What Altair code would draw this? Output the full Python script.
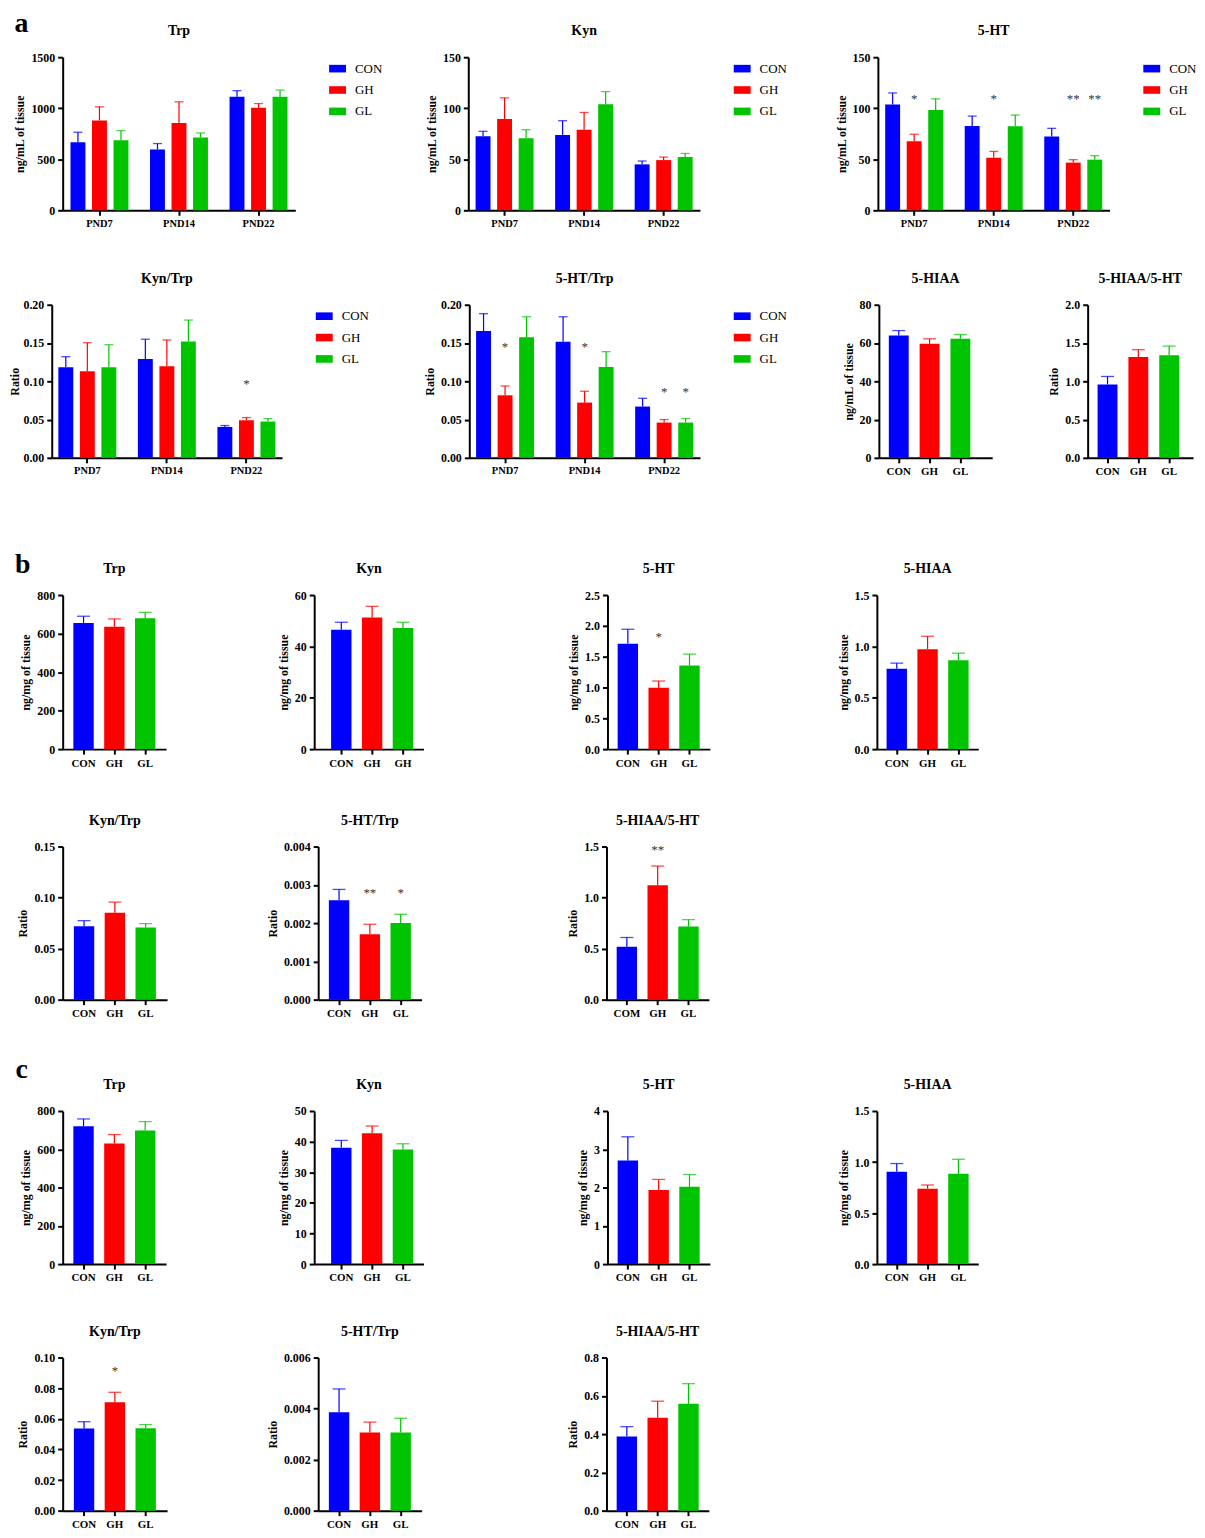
import altair as alt
import pandas as pd

FONT = "Liberation Serif"
GROUPS = ["CON", "GH", "GL"]
PND = ["PND7", "PND14", "PND22"]
COLORS = ["#0000ff", "#ff0000", "#00c400"]

# ---------------- section a (per day, order CON, GH, GL) ----------------
a_trp_mean = [667, 881, 687, 596, 855, 713, 1112, 1004, 1112]
a_trp_top = [765, 1014, 781, 654, 1063, 758, 1172, 1046, 1178]
a_kyn_mean = [72.6, 89.4, 70.6, 73.9, 79.0, 104.0, 45.0, 49.2, 52.2]
a_kyn_top = [77.4, 110.2, 79.0, 87.8, 95.9, 116.3, 48.3, 52.2, 55.7]
a_5ht_mean = [103.7, 67.7, 98.2, 82.6, 51.5, 82.3, 72.2, 46.7, 49.6]
a_5ht_top = [115.0, 74.5, 109.2, 92.3, 57.7, 93.3, 80.3, 49.6, 53.5]
a_5ht_star = ["", "*", "", "", "*", "", "", "**", "**"]
a_5ht_star_y = [0, 111, 0, 0, 111, 0, 0, 111, 111]
a_kyntrp_mean = [0.1183, 0.113, 0.1183, 0.129, 0.1196, 0.152, 0.0404, 0.0491, 0.0474]
a_kyntrp_top = [0.1322, 0.1504, 0.1478, 0.155, 0.154, 0.18, 0.0422, 0.0526, 0.0513]
a_kyntrp_star = ["", "", "", "", "", "", "", "*", ""]
a_kyntrp_star_y = [0, 0, 0, 0, 0, 0, 0, 0.0987, 0]
a_5httrp_mean = [0.1657, 0.0817, 0.1574, 0.1517, 0.0722, 0.1187, 0.067, 0.0461, 0.0461]
a_5httrp_top = [0.1883, 0.0939, 0.1843, 0.1843, 0.087, 0.1387, 0.0778, 0.05, 0.0513]
a_5httrp_star = ["", "*", "", "", "*", "", "", "*", "*"]
a_5httrp_star_y = [0, 0.148, 0, 0, 0.148, 0, 0, 0.089, 0.089]
a_5hiaa_mean = [63.9, 59.6, 62.2]
a_5hiaa_top = [66.5, 62.2, 64.4]
a_ratio_mean = [0.959, 1.318, 1.339]
a_ratio_top = [1.063, 1.413, 1.46]

# ---------------- section b ----------------
b_trp_mean = [655, 636, 680]
b_trp_top = [690, 676, 710]
b_kyn_mean = [46.5, 51.3, 47.2]
b_kyn_top = [49.4, 55.6, 49.4]
b_kyn_labels = ["CON", "GH", "GH"]
b_5ht_mean = [1.708, 0.997, 1.358]
b_5ht_top = [1.945, 1.105, 1.541]
b_5ht_star = ["", "*", ""]
b_5ht_star_y = [0, 1.853, 0]
b_5hiaa_mean = [0.782, 0.973, 0.866]
b_5hiaa_top = [0.837, 1.099, 0.934]
b_kyntrp_mean = [0.0719, 0.0852, 0.0706]
b_kyntrp_top = [0.0774, 0.0956, 0.0745]
b_5httrp_mean = [0.0026, 0.00171, 0.002]
b_5httrp_top = [0.00288, 0.00197, 0.00223]
b_5httrp_star = ["", "**", "*"]
b_5httrp_star_y = [0, 0.00283, 0.00283]
b_ratio_mean = [0.518, 1.121, 0.716]
b_ratio_top = [0.609, 1.309, 0.784]
b_ratio_star = ["", "**", ""]
b_ratio_star_y = [0, 1.49, 0]
b_ratio_labels = ["COM", "GH", "GL"]

# ---------------- section c ----------------
c_trp_mean = [720.5, 630.6, 698]
c_trp_top = [758.5, 677, 744.7]
c_kyn_mean = [38.0, 42.7, 37.4]
c_kyn_top = [40.4, 45.1, 39.3]
c_5ht_mean = [2.704, 1.935, 2.022]
c_5ht_top = [3.326, 2.212, 2.341]
c_5hiaa_mean = [0.904, 0.739, 0.884]
c_5hiaa_top = [0.985, 0.775, 1.027]
c_kyntrp_mean = [0.0536, 0.0708, 0.0538]
c_kyntrp_top = [0.0581, 0.0773, 0.0562]
c_kyntrp_star = ["", "*", ""]
c_kyntrp_star_y = [0, 0.0922, 0]
c_5httrp_mean = [0.00386, 0.00306, 0.00306]
c_5httrp_top = [0.00477, 0.00347, 0.00362]
c_ratio_mean = [0.387, 0.4855, 0.558]
c_ratio_top = [0.439, 0.572, 0.6635]

ML = "ng/mL of tissue"
MG = "ng/mg of tissue"


def band_scale(W, step, bw, left=None):
    outer = W - (2 * step + bw)
    pi = (step - bw) / step
    po = outer / (2 * step)
    al = 0.5 if left is None else left / outer
    return alt.Scale(paddingInner=pi, paddingOuter=po, align=al)


def label_expr(labels):
    expr = "datum.value"
    for g, l in zip(GROUPS, labels):
        if g != l:
            expr = f"datum.value == '{g}' ? '{l}' : ({expr})"
    return expr


def panel(title, ytitle, mean, top, ymax, ystep, yfmt, W, H, grouped=False,
          stars=None, star_y=None, labels=None, legend=False,
          bar_w=20.5, left=None, title_pad=4):
    if grouped:
        cats = [d for d in PND for _ in GROUPS]
        grps = GROUPS * 3
    else:
        cats = list(GROUPS)
        grps = list(GROUPS)
    df = pd.DataFrame({"cat": cats, "grp": grps, "mean": mean, "top": top,
                       "star": stars if stars else [""] * len(mean),
                       "sy": star_y if star_y else [0] * len(mean)})
    nt = int(round(ymax / ystep))
    ticks = [round(i * ystep, 6) for i in range(nt + 1)]
    yscale = alt.Scale(domain=[0, ymax], nice=False, zero=True)
    yaxis = alt.Axis(values=ticks, format=yfmt, title=ytitle, titlePadding=title_pad,
                     labelPadding=3)
    if grouped:
        xenc = alt.X("cat:N", sort=PND, scale=band_scale(W, 80, 58.3),
                     axis=alt.Axis(title=None, labelAngle=0, labelFontSize=10.5,
                                   labelPadding=3))
        extra = {"xOffset": alt.XOffset("grp:N", sort=GROUPS,
                                        scale=alt.Scale(paddingInner=0.307, paddingOuter=0))}
        capw = 9
    else:
        ax = dict(title=None, labelAngle=0, labelFontSize=11, labelPadding=3)
        if labels is not None:
            ax["labelExpr"] = label_expr(labels)
        xenc = alt.X("grp:N", sort=GROUPS, scale=band_scale(W, 31, bar_w, left),
                     axis=alt.Axis(**ax))
        extra = {}
        capw = 13
    if legend:
        leg = alt.Legend(orient="none", legendX=W + 34, legendY=3, title=None,
                         symbolType="M-1,-0.45L1,-0.45L1,0.45L-1,0.45Z",
                         symbolSize=289, symbolStrokeWidth=0, symbolOpacity=1,
                         labelFont=FONT, labelFontSize=13, labelFontWeight="normal",
                         labelColor="black", labelOffset=9, rowPadding=5.5, padding=0)
    else:
        leg = None
    color = alt.Color("grp:N", scale=alt.Scale(domain=GROUPS, range=COLORS), legend=leg)
    base = alt.Chart(df)
    bars = base.mark_bar().encode(
        x=xenc, y=alt.Y("mean:Q", scale=yscale, axis=yaxis), color=color, **extra)
    rules = base.mark_rule(strokeWidth=1.2).encode(
        x=xenc, y=alt.Y("mean:Q", scale=yscale, axis=yaxis), y2="top:Q",
        color=color, **extra)
    caps = base.mark_tick(thickness=1.3, size=capw).encode(
        x=xenc, y=alt.Y("top:Q", scale=yscale, axis=yaxis), color=color, **extra)
    layers = [bars, rules, caps]
    if stars:
        st = base.transform_filter("datum.star != ''").mark_text(
            font=FONT, fontSize=13, color="#333333", baseline="middle", dy=2
        ).encode(x=xenc, y=alt.Y("sy:Q", scale=yscale, axis=yaxis), text="star:N", **extra)
        layers.append(st)
    return alt.layer(*layers).properties(
        width=W, height=H,
        title=alt.TitleParams(title, font=FONT, fontSize=14, fontWeight="bold",
                              anchor="middle", frame="group", offset=13, color="black"))


def resolve_all(c):
    return c.resolve_scale(x="independent", y="independent", color="independent",
                           xOffset="independent").resolve_legend(color="independent")


def spacer(w, h=1, above=0, below=0, section=None):
    sp = alt.Chart(pd.DataFrame({"v": [0]})).mark_rule(opacity=0, strokeWidth=0.5).encode(
        x=alt.value(0), y=alt.value(-above), y2=alt.value(h + below)
    ).properties(width=w, height=h)
    if section:
        letter, dx, dy = section
        lab = alt.Chart(pd.DataFrame({"t": [letter]})).mark_text(
            font=FONT, fontSize=28, fontWeight="bold", align="center",
            baseline="alphabetic", color="black"
        ).encode(text="t:N", x=alt.value(dx), y=alt.value(dy))
        sp = alt.layer(sp, lab).properties(width=w, height=h)
    return sp


X0 = 5
TOP_EXT = 60


def row(panels, lefts, widths, H, below, section=None):
    sec = None
    if section:
        letter, cx, dy = section
        sec = (letter, cx - X0, dy)
    items = [spacer(lefts[0] - X0, H, TOP_EXT, below, sec)]
    for i, p in enumerate(panels):
        items.append(p)
        if i < len(panels) - 1:
            items.append(spacer(lefts[i + 1] - lefts[i] - widths[i]))
    return resolve_all(alt.hconcat(*items, spacing=0, bounds="flush"))


# ---------------- layout (plot-area positions) ----------------
H = 154
a1_l, a1_w = [62.7, 470, 882], [234, 233, 233]
a2_l, a2_w = [51.7, 471, 882.3, 1092.3], [231.6, 232, 114, 106]
b1_l, b1_w = [62.7, 315, 610, 881], [104, 110, 103, 102]
b2_l, b2_w = [63, 320, 610], [105, 104, 103]
tops = [53, 302, 594, 847, 1113, 1361]
heights = [154, 154, 155, 154, 154, 154]
below = [tops[i + 1] - tops[i] - heights[i] - TOP_EXT for i in range(5)] + [20]

a1 = row([
    panel("Trp", ML, a_trp_mean, a_trp_top, 1500, 500, "d", a1_w[0], H, grouped=True, legend=True),
    panel("Kyn", ML, a_kyn_mean, a_kyn_top, 150, 50, "d", a1_w[1], H, grouped=True, legend=True),
    panel("5-HT", ML, a_5ht_mean, a_5ht_top, 150, 50, "d", a1_w[2], H, grouped=True,
          legend=True, stars=a_5ht_star, star_y=a_5ht_star_y),
], a1_l, a1_w, H, below[0], section=("a", 21.5, -25))

a2 = row([
    panel("Kyn/Trp", "Ratio", a_kyntrp_mean, a_kyntrp_top, 0.2, 0.05, ".2f", a2_w[0], H,
          grouped=True, legend=True, stars=a_kyntrp_star, star_y=a_kyntrp_star_y, title_pad=1),
    panel("5-HT/Trp", "Ratio", a_5httrp_mean, a_5httrp_top, 0.2, 0.05, ".2f", a2_w[1], H,
          grouped=True, legend=True, stars=a_5httrp_star, star_y=a_5httrp_star_y),
    panel("5-HIAA", ML, a_5hiaa_mean, a_5hiaa_top, 80, 20, "d", a2_w[2], H, bar_w=20, left=10),
    panel("5-HIAA/5-HT", "Ratio", a_ratio_mean, a_ratio_top, 2.0, 0.5, ".1f", a2_w[3], H,
          bar_w=20, left=10),
], a2_l, a2_w, H, below[1])

b1 = row([
    panel("Trp", MG, b_trp_mean, b_trp_top, 800, 200, "d", b1_w[0], 155),
    panel("Kyn", MG, b_kyn_mean, b_kyn_top, 60, 20, "d", b1_w[1], 155, labels=b_kyn_labels, left=17),
    panel("5-HT", MG, b_5ht_mean, b_5ht_top, 2.5, 0.5, ".1f", b1_w[2], 155,
          stars=b_5ht_star, star_y=b_5ht_star_y),
    panel("5-HIAA", MG, b_5hiaa_mean, b_5hiaa_top, 1.5, 0.5, ".1f", b1_w[3], 155),
], b1_l, b1_w, 155, below[2], section=("b", 22.7, -22))

b2 = row([
    panel("Kyn/Trp", "Ratio", b_kyntrp_mean, b_kyntrp_top, 0.15, 0.05, ".2f", b2_w[0], H),
    panel("5-HT/Trp", "Ratio", b_5httrp_mean, b_5httrp_top, 0.004, 0.001, ".3f", b2_w[1], H,
          stars=b_5httrp_star, star_y=b_5httrp_star_y),
    panel("5-HIAA/5-HT", "Ratio", b_ratio_mean, b_ratio_top, 1.5, 0.5, ".1f", b2_w[2], H,
          stars=b_ratio_star, star_y=b_ratio_star_y, labels=b_ratio_labels),
], b2_l, b2_w, H, below[3])

c1 = row([
    panel("Trp", MG, c_trp_mean, c_trp_top, 800, 200, "d", b1_w[0], H),
    panel("Kyn", MG, c_kyn_mean, c_kyn_top, 50, 10, "d", b1_w[1], H, left=17),
    panel("5-HT", MG, c_5ht_mean, c_5ht_top, 4, 1, "d", b1_w[2], H),
    panel("5-HIAA", MG, c_5hiaa_mean, c_5hiaa_top, 1.5, 0.5, ".1f", b1_w[3], H),
], b1_l, b1_w, H, below[4], section=("c", 21.7, -33))

c2 = row([
    panel("Kyn/Trp", "Ratio", c_kyntrp_mean, c_kyntrp_top, 0.1, 0.02, ".2f", b2_w[0], H,
          stars=c_kyntrp_star, star_y=c_kyntrp_star_y),
    panel("5-HT/Trp", "Ratio", c_5httrp_mean, c_5httrp_top, 0.006, 0.002, ".3f", b2_w[1], H),
    panel("5-HIAA/5-HT", "Ratio", c_ratio_mean, c_ratio_top, 0.8, 0.2, ".1f", b2_w[2], H),
], b2_l, b2_w, H, below[5])

chart = resolve_all(alt.vconcat(a1, a2, b1, b2, c1, c2, spacing=0))

# negative padding so that the invisible layout guides fall outside the page margin
chart = chart.properties(
    padding={"left": X0 - 8, "top": tops[0] - TOP_EXT - 8, "right": 0, "bottom": 0}
).configure_axis(
    domainColor="black", domainWidth=2, tickColor="black", tickWidth=2, tickSize=5,
    labelFont=FONT, labelFontWeight="bold", labelColor="black", labelFontSize=12,
    titleFont=FONT, titleFontWeight="bold", titleFontSize=12, titleColor="black",
    grid=False
).configure_view(stroke=None)

chart.save("out.html", embed_options={"renderer": "svg", "actions": False})
